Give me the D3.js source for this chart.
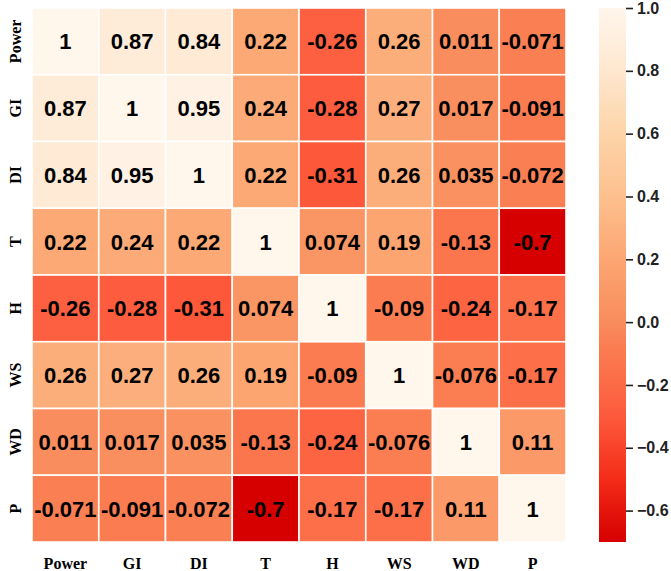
<!DOCTYPE html>
<html>
<head>
<meta charset="utf-8">
<script src="https://cdn.jsdelivr.net/npm/d3@7"></script>
<style>
  body { margin: 0; background: #fff; }
</style>
</head>
<body>
<svg width="671" height="571"></svg>
<script>
// variables (row/col order)
const vars = ['Power', 'GI', 'DI', 'T', 'H', 'WS', 'WD', 'P'];

// correlation matrix
const corr = [
  [1, 0.87, 0.84, 0.22, -0.26, 0.26, 0.011, -0.071],
  [0.87, 1, 0.95, 0.24, -0.28, 0.27, 0.017, -0.091],
  [0.84, 0.95, 1, 0.22, -0.31, 0.26, 0.035, -0.072],
  [0.22, 0.24, 0.22, 1, 0.074, 0.19, -0.13, -0.7],
  [-0.26, -0.28, -0.31, 0.074, 1, -0.09, -0.24, -0.17],
  [0.26, 0.27, 0.26, 0.19, -0.09, 1, -0.076, -0.17],
  [0.011, 0.017, 0.035, -0.13, -0.24, -0.076, 1, 0.11],
  [-0.071, -0.091, -0.072, -0.7, -0.17, -0.17, 0.11, 1]
];

const cbTicks = [-0.6, -0.4, -0.2, 0.0, 0.2, 0.4, 0.6, 0.8, 1.0];

// colour stops for the map
const stopVals = [-0.7, -0.5, -0.3, -0.1, 0.0, 0.2, 0.4, 0.6, 0.8, 1.0];
const stopCols = ['#d60000', '#f42c18', '#fd5a3c', '#fb7a50', '#f98c5c',
                  '#fca672', '#fdc08e', '#fdd4a8', '#fee7cf', '#fff6ec'];

const svg = d3.select('svg');
const color = d3.scaleLinear().domain(stopVals).range(stopCols).interpolate(d3.interpolateRgb);

const x = d3.scaleBand().domain(vars).range([32, 566]);
const y = d3.scaleBand().domain(vars).range([8, 542]);

const cells = [];
corr.forEach((row, i) => row.forEach((v, j) => cells.push({ r: vars[i], c: vars[j], v: v })));

svg.append('g').selectAll('rect')
  .data(cells)
  .join('rect')
  .attr('x', d => x(d.c))
  .attr('y', d => y(d.r))
  .attr('width', x.bandwidth())
  .attr('height', y.bandwidth())
  .attr('fill', d => color(d.v))
  .attr('stroke', '#fff')
  .attr('stroke-width', 1.6);

svg.append('g').selectAll('text')
  .data(cells)
  .join('text')
  .attr('x', d => x(d.c) + x.bandwidth() / 2)
  .attr('y', d => y(d.r) + y.bandwidth() / 2)
  .attr('dy', '0.36em')
  .attr('text-anchor', 'middle')
  .style('font-family', 'Liberation Sans, Arial, sans-serif')
  .style('font-weight', 'bold')
  .style('font-size', '22px')
  .attr('fill', '#000')
  .text(d => d.v);

// x labels
svg.append('g').selectAll('text')
  .data(vars)
  .join('text')
  .attr('x', d => x(d) + x.bandwidth() / 2)
  .attr('y', 569)
  .attr('text-anchor', 'middle')
  .style('font-family', 'Liberation Serif, Times New Roman, serif')
  .style('font-weight', 'bold')
  .style('font-size', '16px')
  .text(d => d);

// y labels
svg.append('g').selectAll('text')
  .data(vars)
  .join('text')
  .attr('transform', d => `translate(21,${y(d) + y.bandwidth() / 2}) rotate(-90)`)
  .attr('text-anchor', 'middle')
  .style('font-family', 'Liberation Serif, Times New Roman, serif')
  .style('font-weight', 'bold')
  .style('font-size', '16px')
  .text(d => d);

// colorbar
const cb = d3.scaleLinear().domain([-0.7, 1.0]).range([542, 8]);
const defs = svg.append('defs');
const grad = defs.append('linearGradient')
  .attr('id', 'cbgrad')
  .attr('x1', 0).attr('y1', 1).attr('x2', 0).attr('y2', 0);
grad.selectAll('stop')
  .data(d3.range(0, 1.0001, 0.02))
  .join('stop')
  .attr('offset', d => d)
  .attr('stop-color', d => color(-0.7 + d * 1.7));

svg.append('rect')
  .attr('x', 599)
  .attr('y', 8)
  .attr('width', 27)
  .attr('height', 534)
  .attr('fill', 'url(#cbgrad)');

const cbAxis = svg.append('g')
  .attr('transform', 'translate(626,0)')
  .call(d3.axisRight(cb).tickValues(cbTicks).tickFormat(d3.format('.1f')).tickSize(7).tickPadding(4));
cbAxis.select('.domain').remove();
cbAxis.selectAll('line').attr('stroke', '#222').attr('stroke-width', 1.6);
cbAxis.selectAll('text')
  .style('font-family', 'Liberation Sans, Arial, sans-serif')
  .style('font-weight', 'bold')
  .style('font-size', '16px')
  .attr('fill', '#222');
</script>
</body>
</html>
